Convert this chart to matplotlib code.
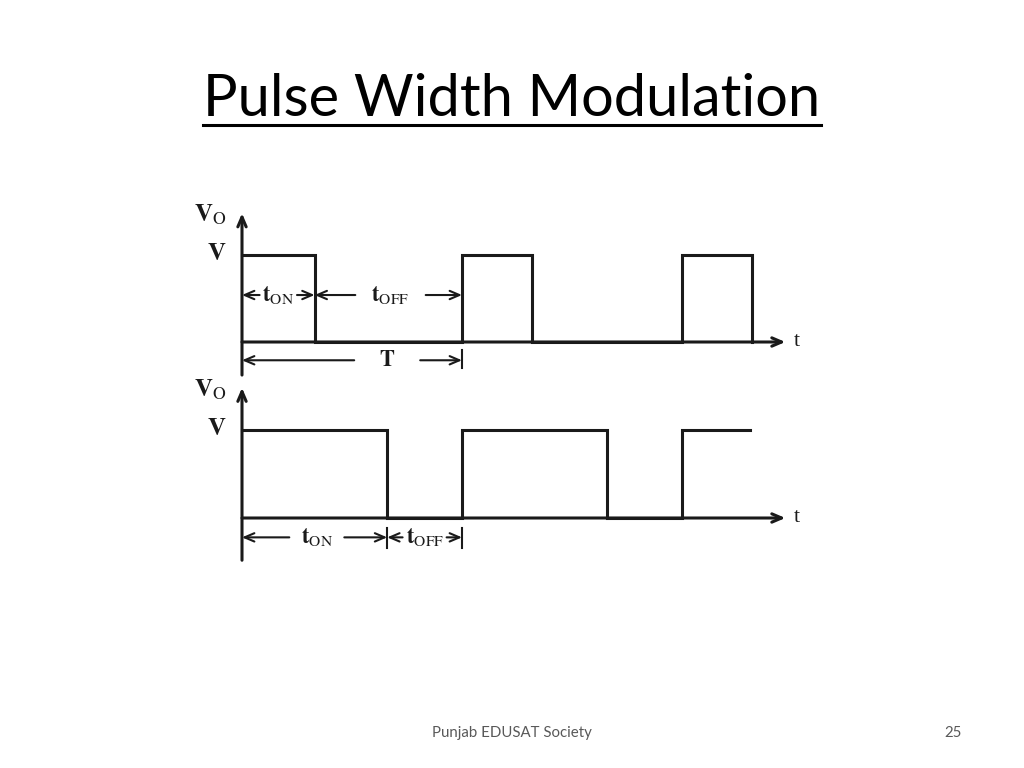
import matplotlib
matplotlib.use("Agg")
import matplotlib.pyplot as plt

plt.rcParams["mathtext.fontset"] = "stix"

# transition times (in periods) and levels of each waveform
top_times = [0.0, 0.33, 0.33, 1.0, 1.0, 1.32, 1.32, 2.0, 2.0, 2.32, 2.32]
top_levels = [1, 1, 0, 0, 1, 1, 0, 0, 1, 1, 0]
bot_times = [0.0, 0.66, 0.66, 1.0, 1.0, 1.66, 1.66, 2.0, 2.0, 2.31]
bot_levels = [1, 1, 0, 0, 1, 1, 0, 0, 1, 1]

top_duty = 0.33
bot_duty = 0.66
period = 1.0
t_end = 2.47

W, H = 1024, 768
fig = plt.figure(figsize=(W / 100, H / 100), dpi=100)
fig.patch.set_facecolor("white")

INK = "#1a1a1a"
HEAD = "->,head_length=0.7,head_width=0.3"


def panel(x0, y0, sx, sy):
    ax = fig.add_axes([0, 0, 1, 1])
    ax.set_xlim(-x0 / sx, (W - x0) / sx)
    ax.set_ylim(-(H - y0) / sy, y0 / sy)
    ax.axis("off")
    ax.patch.set_alpha(0)
    return ax


def arrow(ax, start, end, lw):
    ax.annotate("", xy=end, xytext=start,
                arrowprops=dict(arrowstyle=HEAD, lw=lw, color=INK,
                                shrinkA=0, shrinkB=0))


def axes_arrows(ax, ybot, ytop):
    arrow(ax, (0, ybot), (0, ytop), 2.2)
    arrow(ax, (0, 0), (t_end, 0), 2.2)
    ax.text(t_end + 0.04, 0.0, "t", family="Liberation Serif", fontsize=16,
            ha="left", va="center", color=INK)
    ax.text(-0.068, ytop - 0.02, r"$\mathbf{V}_{\mathrm{O}}$", fontsize=18,
            ha="right", va="center", color=INK)
    ax.text(-0.07, 1.02, r"$\mathbf{V}$", fontsize=18,
            ha="right", va="center", color=INK)


def dim(ax, xa, xb, y, label, xt, half_gap):
    arrow(ax, (xt - half_gap, y), (xa, y), 1.5)
    arrow(ax, (xt + half_gap, y), (xb, y), 1.5)
    ax.text(xt, y, label, fontsize=16, ha="center", va="center", color=INK)


# upper waveform
ax1 = panel(242, 342, 220, 87)
axes_arrows(ax1, -0.38, 1.48)
ax1.plot(top_times, top_levels, color=INK, lw=2.2, solid_joinstyle="miter")
dim(ax1, 0, top_duty, 0.54, r"$\mathbf{t}_{\mathrm{ON}}$", 0.165, 0.085)
dim(ax1, top_duty, period, 0.54, r"$\mathbf{t}_{\mathrm{OFF}}$", 0.675, 0.16)
dim(ax1, 0, period, -0.21, r"$\mathbf{T}$", 0.66, 0.15)
ax1.plot([period, period], [-0.09, -0.30], color=INK, lw=1.5)

# lower waveform
ax2 = panel(242, 518, 220, 88)
axes_arrows(ax2, -0.48, 1.48)
ax2.plot(bot_times, bot_levels, color=INK, lw=2.2, solid_joinstyle="miter")
dim(ax2, 0, bot_duty, -0.22, r"$\mathbf{t}_{\mathrm{ON}}$", 0.34, 0.125)
dim(ax2, bot_duty, period, -0.22, r"$\mathbf{t}_{\mathrm{OFF}}$", 0.83, 0.1)
for xv in (bot_duty, period):
    ax2.plot([xv, xv], [-0.11, -0.34], color=INK, lw=1.5)

# title with underline
title = fig.text(0.5, 1 - 99 / H, "Pulse Width Modulation", family="Lato",
                 fontsize=41.6, ha="center", va="center", color="black")
fig.canvas.draw()
bb = title.get_window_extent(fig.canvas.get_renderer())
fig.add_artist(plt.Line2D([bb.x0 / W, bb.x1 / W], [1 - 125 / H, 1 - 125 / H],
                          color="black", lw=2.2))

fig.text(0.5, 1 - 733 / H, "Punjab EDUSAT Society", family="Lato", fontsize=10.8,
         ha="center", va="center", color="#595959")
fig.text(953 / W, 1 - 733 / H, "25", family="Lato", fontsize=10.8,
         ha="center", va="center", color="#595959")

fig.savefig("out.png", dpi=100, facecolor="white")
